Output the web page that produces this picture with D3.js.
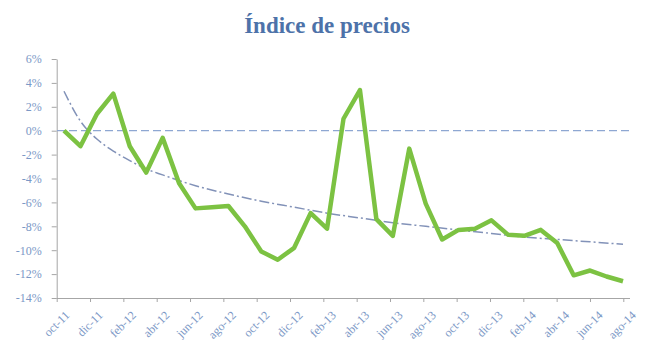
<!DOCTYPE html>
<html>
<head>
<meta charset="utf-8">
<script src="https://cdn.jsdelivr.net/npm/d3@7"></script>
<style>
	body { margin: 0; background: #fff; }
	#graphic { width: 652px; height: 364px; }
	.axis text { font-family: "Liberation Serif", "DejaVu Serif", serif; font-size: 12px; fill: #7b98c6; }
	.axis path, .axis line { stroke: #a6a6a6; }
</style>
</head>
<body>
<div id="graphic"></div>
<script>
// months of the series (one point per month)
const months = ['oct-11', 'nov-11', 'dic-11', 'ene-12', 'feb-12', 'mar-12', 'abr-12', 'may-12', 'jun-12', 'jul-12', 'ago-12', 'sep-12',
	'oct-12', 'nov-12', 'dic-12', 'ene-13', 'feb-13', 'mar-13', 'abr-13', 'may-13', 'jun-13', 'jul-13', 'ago-13', 'sep-13',
	'oct-13', 'nov-13', 'dic-13', 'ene-14', 'feb-14', 'mar-14', 'abr-14', 'may-14', 'jun-14', 'jul-14', 'ago-14'];

// price index variation, %
const values = [0.0, -1.3, 1.4, 3.1, -1.3, -3.5, -0.6, -4.4, -6.5, -6.4, -6.3, -8.0,
	-10.1, -10.8, -9.8, -6.9, -8.2, 1.0, 3.4, -7.4, -8.8, -1.5, -6.1, -9.1,
	-8.3, -8.2, -7.5, -8.7, -8.8, -8.3, -9.4, -12.1, -11.7, -12.2, -12.6];

// trend line, read at some months
const trendMonths = ['oct-11', 'nov-11', 'dic-11', 'ene-12', 'feb-12', 'mar-12', 'abr-12', 'jun-12', 'ago-12', 'oct-12', 'dic-12',
	'feb-13', 'abr-13', 'jun-13', 'ago-13', 'oct-13', 'dic-13', 'feb-14', 'abr-14', 'jun-14', 'ago-14'];
const trendValues = [3.3, 0.8, -0.7, -1.7, -2.5, -3.2, -3.7, -4.6, -5.3, -5.9, -6.4,
	-6.9, -7.3, -7.7, -8.0, -8.3, -8.6, -8.9, -9.1, -9.3, -9.5];

// axis labels
const tickLabels = ['oct-11', 'dic-11', 'feb-12', 'abr-12', 'jun-12', 'ago-12', 'oct-12', 'dic-12', 'feb-13',
	'abr-13', 'jun-13', 'ago-13', 'oct-13', 'dic-13', 'feb-14', 'abr-14', 'jun-14', 'ago-14'];
const yTicks = [6, 4, 2, 0, -2, -4, -6, -8, -10, -12, -14];

const title = 'Índice de precios';

const svg = d3.select('#graphic').append('svg')
	.attr('width', 652)
	.attr('height', 364);

// scales
const x = d3.scalePoint().domain(months).range([64, 623]);
const xTicks = d3.scalePoint().domain(tickLabels).range([56.7, 623.3]);
const y = d3.scaleLinear().domain([-14, 6]).range([298, 59]);

// title
svg.append('text')
	.attr('x', 327)
	.attr('y', 33)
	.attr('text-anchor', 'middle')
	.style('font-family', '"Liberation Serif", serif')
	.style('font-weight', 'bold')
	.style('font-size', '23px')
	.style('fill', '#4d72a9')
	.text(title);

// y axis
svg.append('g')
	.attr('class', 'y axis')
	.attr('transform', 'translate(56.7,0)')
	.call(d3.axisLeft(y).tickValues(yTicks).tickSize(5).tickSizeOuter(0).tickPadding(10).tickFormat(d => d + '%'));

// x axis
const xAxis = svg.append('g')
	.attr('class', 'x axis')
	.attr('transform', 'translate(0,298)')
	.call(d3.axisBottom(xTicks).tickSize(4).tickSizeOuter(0));

xAxis.select('.domain').attr('d', 'M56.7,0.5H630');

xAxis.selectAll('text')
	.attr('text-anchor', 'end')
	.attr('dy', 0)
	.attr('transform', 'translate(8,13) rotate(-45)');

// zero line
svg.append('line')
	.attr('x1', 57)
	.attr('x2', 630)
	.attr('y1', y(0))
	.attr('y2', y(0))
	.attr('stroke', '#8ea7d2')
	.attr('stroke-width', 1.3)
	.attr('stroke-dasharray', '8,4');

// trend line
svg.append('path')
	.datum(trendMonths.map((m, i) => [m, trendValues[i]]))
	.attr('fill', 'none')
	.attr('stroke', '#8292b8')
	.attr('stroke-width', 1.5)
	.attr('stroke-dasharray', '10,3,2,3')
	.attr('d', d3.line().curve(d3.curveMonotoneX).x(d => x(d[0])).y(d => y(d[1])));

// main series
svg.append('path')
	.datum(values)
	.attr('fill', 'none')
	.attr('stroke', '#7cc242')
	.attr('stroke-width', 4.5)
	.attr('stroke-linejoin', 'round')
	.attr('d', d3.line().x((d, i) => x(months[i])).y(d => y(d)));
</script>
</body>
</html>
